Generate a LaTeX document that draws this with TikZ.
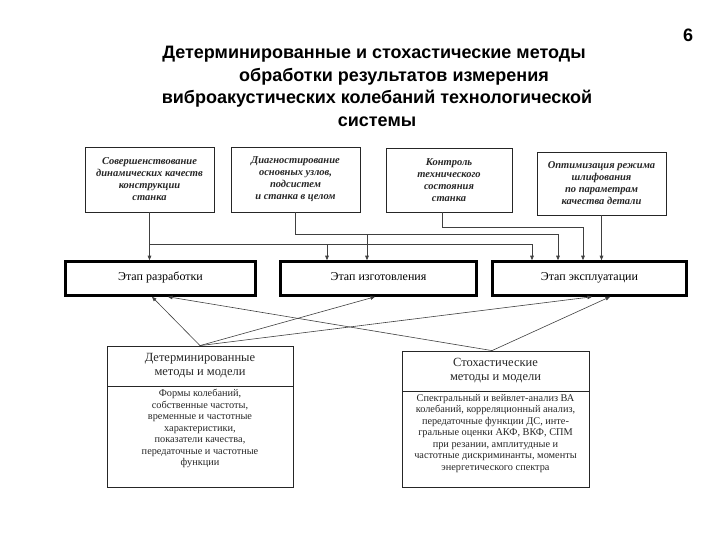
\documentclass[tikz,border=0pt]{standalone}
\usepackage{fontspec}
\setmainfont{Liberation Serif}
\newfontfamily\titlefont{Liberation Sans}
\usetikzlibrary{arrows.meta,calc}
\begin{document}
\begin{tikzpicture}[x=1pt,y=-1pt,
  titletext/.style={inner sep=0pt, anchor=base, font=\titlefont\bfseries\fontsize{18}{20}\selectfont},
  topbox/.style={draw=black!85, line width=0.8pt, inner sep=0pt, align=center, text=black!85,
    font=\fontsize{10.5}{12}\selectfont\bfseries\itshape},
  stagebox/.style={draw=black, line width=2.6pt, inner sep=0pt, minimum height=34pt, align=center,
    text height=8pt, text depth=4pt, font=\fontsize{12}{14}\selectfont},
  headbox/.style={draw=black!85, line width=0.8pt, inner sep=0pt, minimum height=40pt, align=center,
    text=black!85, font=\fontsize{12.5}{14}\selectfont},
  bodybox/.style={draw=black!85, line width=0.8pt, inner sep=0pt},
  bodytext/.style={inner sep=0pt, align=center, anchor=north, text=black!85,
    font=\fontsize{10.3}{11.5}\selectfont},
  conn/.style={draw=black!75, line width=0.6pt},
  arr/.style={conn, -{Triangle[length=4.5pt,width=3.6pt]}}
]
\useasboundingbox (0,0) rectangle (720,540);

% title
\node[titletext] (ti1) at (374,59) {Детерминированные и стохастические методы};
\node[titletext] (ti2) at (394,81.5) {обработки результатов измерения};
\node[titletext] (ti3) at (377,104) {виброакустических колебаний технологической};
\node[titletext] (ti4) at (377,126.5) {системы};
\node[titletext] (num) at (688,42) {6};

% top boxes
\node[topbox, minimum width=129pt, minimum height=65pt] (t1) at (149.5,179.5)
  {Совершенствование\\динамических качеств\\конструкции\\станка};
\node[topbox, minimum width=129pt, minimum height=65pt] (t2) at (295.5,179.5)
  {Диагностирование\\основных узлов,\\подсистем\\и станка в целом};
\node[topbox, minimum width=126pt, minimum height=64pt] (t3) at (449,180)
  {Контроль\\технического\\состояния\\станка};
\node[topbox, minimum width=129pt, minimum height=63pt] (t4) at (601.5,183.5)
  {Оптимизация режима\\шлифования\\по параметрам\\качества детали};

% stage boxes
\node[stagebox, minimum width=190pt] (s1) at (160.5,278.5) {Этап разработки};
\node[stagebox, minimum width=196pt] (s2) at (378.5,278.5) {Этап изготовления};
\node[stagebox, minimum width=194pt] (s3) at (589.5,278.5) {Этап эксплуатации};

% bottom boxes
\node[headbox, minimum width=186pt] (b1h) at (200,366) {Детерминированные\\методы и модели};
\node[bodybox, minimum width=186pt, minimum height=101pt] (b1b) at (200,436.5) {};
\node[bodytext] (b1t) at ($(b1b.north)+(0,3.5)$)
  {Формы колебаний,\\собственные частоты,\\временные и частотные\\характеристики,\\показатели качества,\\передаточные и частотные\\функции};
\node[headbox, minimum width=187pt] (b2h) at (495.5,371) {Стохастические\\методы и модели};
\node[bodybox, minimum width=187pt, minimum height=96pt] (b2b) at (495.5,439) {};
\node[bodytext] (b2t) at ($(b2b.north)+(0,3.5)$)
  {Спектральный и вейвлет-анализ ВА\\колебаний, корреляционный анализ,\\передаточные функции ДС, инте-\\гральные оценки АКФ, ВКФ, СПМ\\при резании, амплитудные и\\частотные дискриминанты, моменты\\энергетического спектра};

% connectors from top boxes
\coordinate (a0) at (t1.south |- 0,244);
\coordinate (a1) at (532,244);
\draw[arr] (t1.south) -- (t1.south |- s1.north);
\draw[conn] (a0) -- (a1);
\draw[arr] (327,244) -- (327,0 |- s2.north);
\draw[arr] (a1) -- (a1 |- s3.north);

\coordinate (bb1) at (558,234);
\draw[conn] (t2.south) |- (bb1);
\draw[arr] (367,234) -- (367,0 |- s2.north);
\draw[arr] (bb1) -- (bb1 |- s3.north);

\coordinate (cc0) at (442,0 |- t3.south);
\coordinate (cc1) at (583,227);
\draw[arr] (cc0) |- (cc1) -- (cc1 |- s3.north);

\draw[arr] (t4.south) -- (t4.south |- s3.north);

% connectors from bottom boxes
\coordinate (ap1) at (b1h.north);
\coordinate (ap2) at (492,0 |- b2h.north);
\draw[arr] (ap1) -- (152,0 |- s1.south);
\draw[arr] (ap1) -- (375,0 |- s2.south);
\draw[arr] (ap1) -- (592,0 |- s3.south);
\draw[arr] (ap2) -- (168,0 |- s1.south);
\draw[arr] (ap2) -- (610,0 |- s3.south);
\end{tikzpicture}
\end{document}
